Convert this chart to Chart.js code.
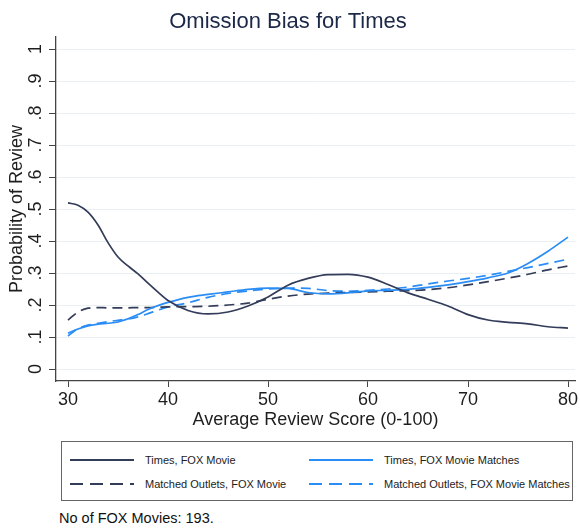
<!DOCTYPE html>
<html>
<head>
<meta charset="utf-8">
<script src="https://cdn.jsdelivr.net/npm/chart.js@4/dist/chart.umd.min.js"></script>
<style>
  html, body { margin: 0; padding: 0; background: #fff; }
  body { width: 580px; height: 529px; position: relative; overflow: hidden;
         font-family: "Liberation Sans", Arial, Helvetica, sans-serif; }
  #wrap { position: absolute; left: 0; top: 0; width: 580px; height: 430px; }
  #legendBox { position: absolute; left: 61px; top: 441px; width: 512px; height: 60px;
               box-sizing: border-box; border: 1px solid #666; }
  .item { position: absolute; font-size: 11px; color: #222; line-height: 14px; }
  .item svg { position: absolute; left: 0; top: 0; }
  .item span { position: absolute; white-space: nowrap; top: 0; }
  #note { position: absolute; left: 59px; top: 510px; font-size: 14.5px; color: #111; }
</style>
</head>
<body>
<div id="wrap"><canvas id="myChart" width="580" height="430"></canvas></div>
<div id="legendBox"></div>
<div id="note">No of FOX Movies: 193.</div>
<script>
// x grid (average review score) shared by all four curves
var scores = [30,31,32,33,34,35,36,37,38,39,40,42,44,46,48,50,52,54,56,58,60,62,64,66,68,70,72,74,76,78,80];

var timesFox = [0.519,0.512,0.49,0.45,0.395,0.35,0.322,0.297,0.268,0.24,0.214,0.183,0.172,0.178,0.197,0.225,0.262,0.283,0.295,0.296,0.287,0.264,0.238,0.218,0.197,0.17,0.153,0.146,0.141,0.132,0.128];
var timesFoxMatches = [0.112,0.125,0.135,0.14,0.143,0.147,0.157,0.17,0.186,0.198,0.208,0.224,0.233,0.241,0.249,0.253,0.252,0.239,0.235,0.238,0.244,0.246,0.249,0.255,0.263,0.273,0.285,0.3,0.33,0.368,0.412];
var outletsFox = [0.153,0.178,0.19,0.192,0.191,0.191,0.191,0.192,0.192,0.193,0.194,0.195,0.196,0.2,0.206,0.218,0.228,0.234,0.237,0.239,0.241,0.243,0.245,0.248,0.254,0.263,0.273,0.284,0.296,0.31,0.322];
var outletsFoxMatches = [0.103,0.126,0.137,0.143,0.148,0.152,0.156,0.163,0.173,0.184,0.194,0.207,0.224,0.236,0.244,0.25,0.253,0.252,0.245,0.243,0.246,0.25,0.256,0.266,0.275,0.283,0.293,0.305,0.317,0.33,0.343];

var seriesNames = ["Times, FOX Movie", "Times, FOX Movie Matches", "Matched Outlets, FOX Movie", "Matched Outlets, FOX Movie Matches"];

var xTickValues = [30,40,50,60,70,80];
var xTickLabels = ["30","40","50","60","70","80"];
var yTickValues = [0,0.1,0.2,0.3,0.4,0.5,0.6,0.7,0.8,0.9,1];
var yTickLabels = ["0",".1",".2",".3",".4",".5",".6",".7",".8",".9","1"];

var titleText = "Omission Bias for Times";
var xTitle = "Average Review Score (0-100)";
var yTitle = "Probability of Review";

var navy = "#333c58";
var blue = "#2a8cf5";
var FONT = '"Liberation Sans", Arial, Helvetica, sans-serif';

function toPoints(vals){
  return vals.map(function(v, i){ return {x: scores[i], y: v}; });
}

var styles = [
  {color: navy, dash: []},
  {color: blue, dash: []},
  {color: navy, dash: [10, 6]},
  {color: blue, dash: [10, 6]}
];
var allSeries = [timesFox, timesFoxMatches, outletsFox, outletsFoxMatches];

var datasets = allSeries.map(function(vals, i){
  return {
    label: seriesNames[i],
    data: toPoints(vals),
    borderColor: styles[i].color,
    borderDash: styles[i].dash,
    borderWidth: 1.7,
    pointRadius: 0,
    fill: false,
    cubicInterpolationMode: "monotone"
  };
});
// draw the dashed ones underneath the solid ones like the original
datasets[0].order = 1; datasets[1].order = 1; datasets[2].order = 2; datasets[3].order = 2;

var textPlugin = {
  id: "axisText",
  afterDraw: function(chart){
    var ctx = chart.ctx, xs = chart.scales.x, ys = chart.scales.y;
    ctx.save();
    ctx.fillStyle = "#1e1e1e";
    ctx.textAlign = "center";
    ctx.textBaseline = "middle";
    ctx.font = "18px " + FONT;
    xTickValues.forEach(function(v, i){
      ctx.fillText(xTickLabels[i], xs.getPixelForValue(v), 400);
    });
    yTickValues.forEach(function(v, i){
      ctx.save();
      ctx.translate(36, ys.getPixelForValue(v));
      ctx.rotate(-Math.PI / 2);
      ctx.fillText(yTickLabels[i], 0, 0);
      ctx.restore();
    });
    ctx.font = "18px " + FONT;
    ctx.fillText(xTitle, (chart.chartArea.left + chart.chartArea.right) / 2, 420);
    ctx.save();
    ctx.translate(17, (chart.chartArea.top + chart.chartArea.bottom) / 2);
    ctx.rotate(-Math.PI / 2);
    ctx.fillText(yTitle, 0, 0);
    ctx.restore();
    ctx.fillStyle = "#1c2848";
    ctx.font = "22px " + FONT;
    ctx.fillText(titleText, 288, 22);
    ctx.restore();
  }
};

var config = {
  type: "line",
  data: {datasets: datasets},
  plugins: [textPlugin],
  options: {
    responsive: false,
    animation: false,
    events: [],
    layout: {padding: {top: 37, right: 5, bottom: 0, left: 0}},
    plugins: {legend: {display: false}, tooltip: {enabled: false}, title: {display: false}},
    scales: {
      x: {
        type: "linear",
        min: 28.8,
        max: 80.7,
        afterFit: function(scale){ scale.height = 49; },
        afterBuildTicks: function(scale){
          scale.ticks = xTickValues.map(function(v){ return {value: v}; });
        },
        ticks: {display: false},
        grid: {drawOnChartArea: false, drawTicks: true, tickLength: 6, tickColor: "#444", lineWidth: 1},
        border: {display: true, color: "#444", width: 1.3}
      },
      y: {
        min: -0.0375,
        max: 1.0375,
        afterFit: function(scale){ scale.width = 56; },
        afterBuildTicks: function(scale){
          scale.ticks = yTickValues.map(function(v){ return {value: v}; });
        },
        ticks: {display: false},
        grid: {color: "#e9f0f3", lineWidth: 1, drawTicks: true, tickLength: 7, tickColor: "#444"},
        border: {display: true, color: "#444", width: 1.3}
      }
    }
  }
};

var myChart = new Chart(document.getElementById("myChart").getContext("2d"), config);

// legend box below the chart
var legendPos = [
  {lx: 8, tx: 83, y: 19},
  {lx: 247, tx: 322, y: 19},
  {lx: 8, tx: 83, y: 43},
  {lx: 247, tx: 322, y: 43}
];
var box = document.getElementById("legendBox");
seriesNames.forEach(function(name, i){
  var p = legendPos[i];
  var item = document.createElement("div");
  item.className = "item";
  item.style.left = p.lx + "px";
  item.style.top = (p.y - 8) + "px";
  var dash = styles[i].dash.length ? ' stroke-dasharray="13 7"' : "";
  item.innerHTML = '<svg width="66" height="14"><line x1="0" y1="7" x2="64" y2="7" stroke="' +
    styles[i].color + '" stroke-width="1.8"' + dash + '/></svg>' +
    '<span style="left:' + (p.tx - p.lx) + 'px">' + name + '</span>';
  box.appendChild(item);
});
</script>
</body>
</html>
